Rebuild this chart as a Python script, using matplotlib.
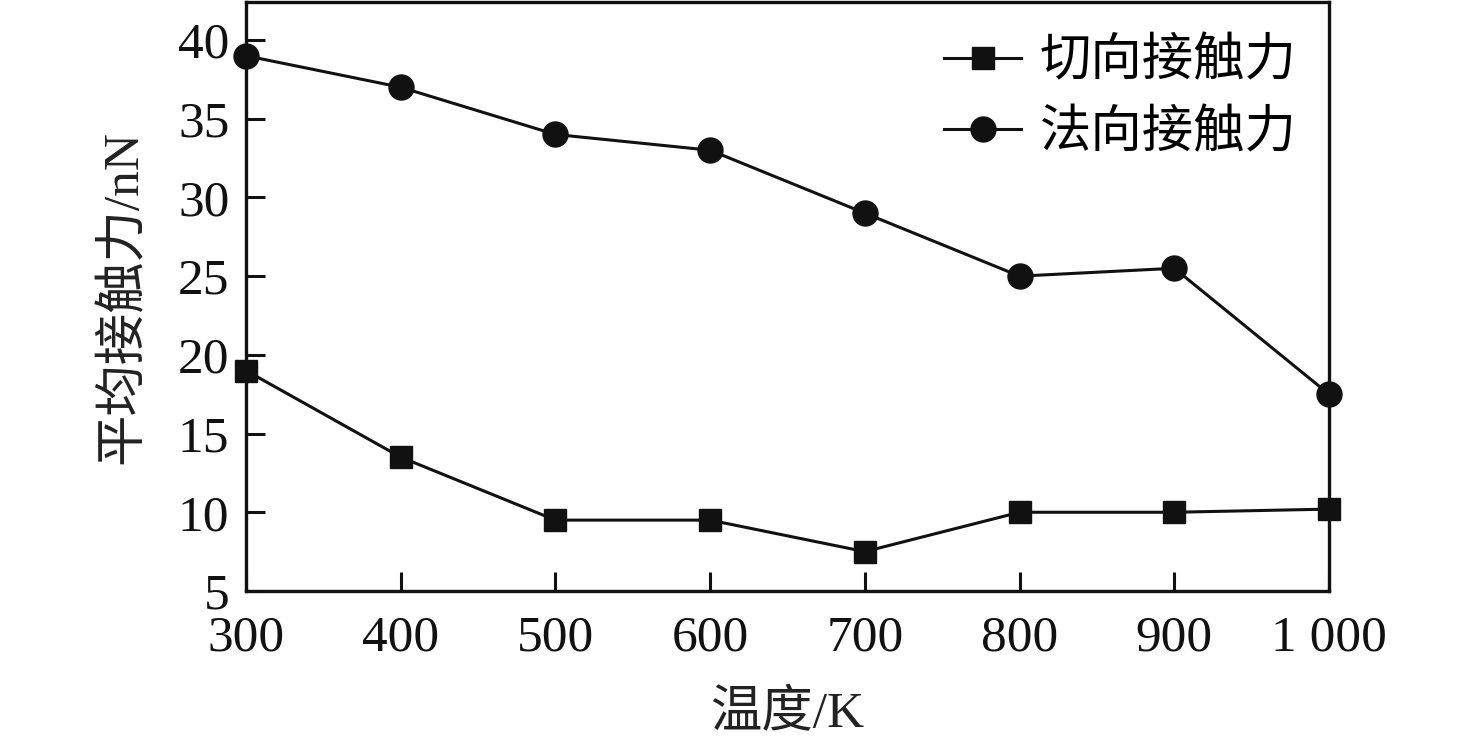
import matplotlib
matplotlib.use("Agg")
import matplotlib.pyplot as plt

plt.rcParams['font.family'] = ['Liberation Serif', 'Noto Sans CJK SC']

# data
temps = [300, 400, 500, 600, 700, 800, 900, 1000]
tangential = [19, 13.5, 9.5, 9.5, 7.5, 10, 10, 10.2]
normal = [39, 37, 34, 33, 29, 25, 25.5, 17.5]
xtick_labels = ['300', '400', '500', '600', '700', '800', '900', '1 000']
yticks = [5, 10, 15, 20, 25, 30, 35, 40]

fig = plt.figure(figsize=(14.76, 7.49), dpi=100)
ax = fig.add_axes([0.1667, 0.211, 0.7337, 0.786])

ax.plot(temps, tangential, color='#111111', lw=2.2, marker='s', ms=16,
        label='切向接触力', clip_on=False, zorder=3)
ax.plot(temps, normal, color='#111111', lw=2.2, marker='o', ms=18,
        label='法向接触力', clip_on=False, zorder=3)

ax.set_xlim(300, 1000)
ax.set_ylim(5, 42.4)
ax.set_xticks(temps)
ax.set_xticklabels(xtick_labels)
ax.set_yticks(yticks)

ax.tick_params(direction='in', length=14, width=2.2, labelsize=37,
               top=False, right=False, colors='#111111')
ax.tick_params(axis='x', pad=17)
ax.tick_params(axis='y', pad=12)
for s in ax.spines.values():
    s.set_linewidth(2.4)
    s.set_color('#111111')

ax.set_xlabel('温度/K', fontsize=37, labelpad=22, color='#222222')
ax.set_ylabel('平均接触力/nN', fontsize=37, labelpad=22, color='#222222')

leg = ax.legend(loc='upper right', frameon=False, fontsize=37,
                handlelength=1.5, handletextpad=0.35, labelspacing=0.45,
                borderaxespad=0.3, bbox_to_anchor=(1.003, 1.0))

fig.savefig('out.png', dpi=100)
